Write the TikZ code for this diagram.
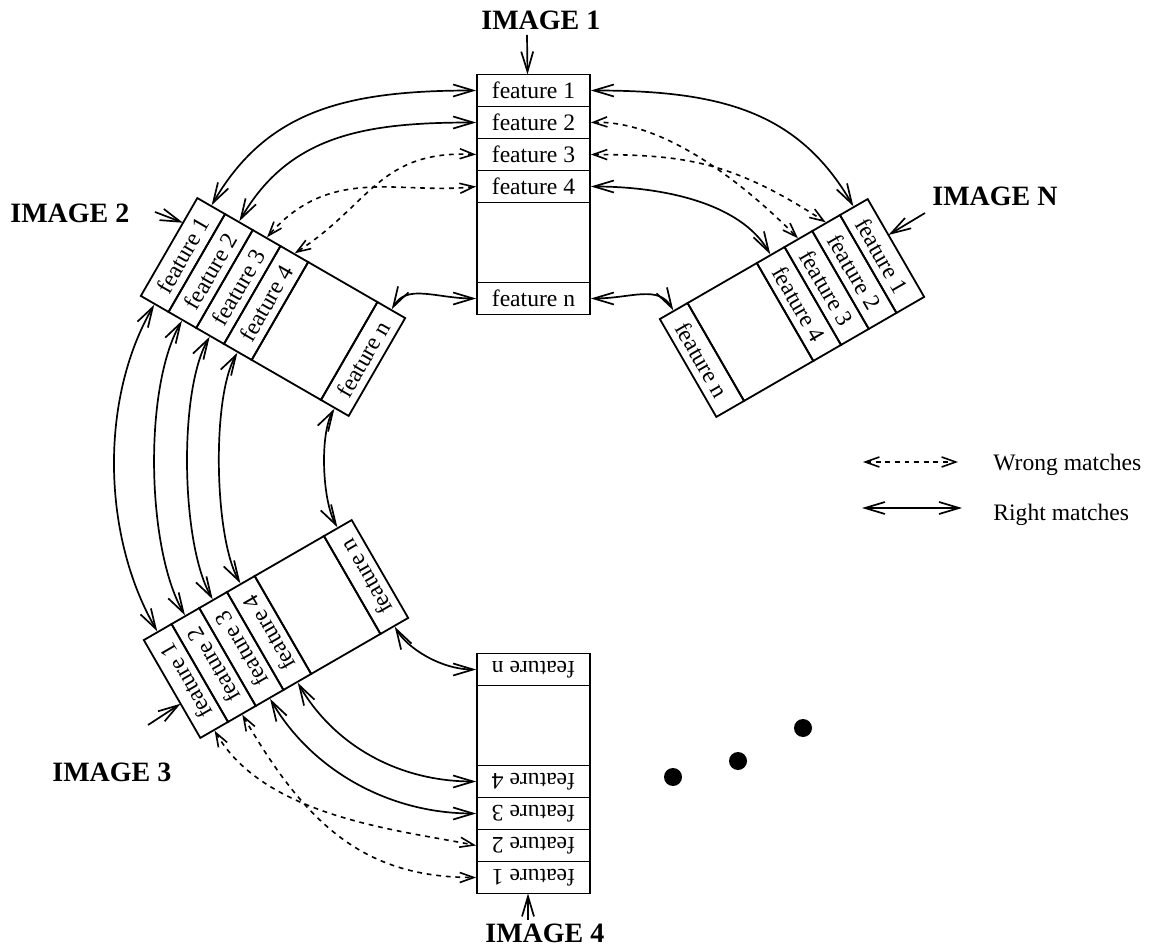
\documentclass[tikz,border=0pt]{standalone}
\usepackage{fontspec}
\setmainfont{Liberation Serif}
\usetikzlibrary{arrows.meta}
\newcommand\featcol[5]{%
\begin{scope}[shift={(#2,#3)}, rotate=#4, transform shape]
  \node[featbox] (#1f1) at (0,-104) {feature 1};
  \node[featbox] (#1f2) at (0,-72) {feature 2};
  \node[featbox] (#1f3) at (0,-40) {feature 3};
  \node[featbox] (#1f4) at (0,-8) {feature 4};
  \node[blankbox] (#1b) at (0,48) {};
  \node[featbox] (#1fn) at (0,104) {feature n};
  \coordinate (#1tip) at (#5,-120);
\end{scope}}
\begin{document}
\begin{tikzpicture}[x=0.5pt,y=-0.5pt,
  featbox/.style={draw, line width=0.9pt, minimum width=56.5pt, minimum height=16pt, inner sep=0pt, font=\fontsize{11.8}{14}\selectfont},
  blankbox/.style={draw, line width=0.9pt, minimum width=56.5pt, minimum height=40pt, inner sep=0pt},
  rightm/.style={line width=0.85pt, {Straight Barb[length=10pt,width=6pt]}-{Straight Barb[length=10pt,width=6pt]}},
  wrongm/.style={line width=0.8pt, dash pattern=on 2.4pt off 2.4pt, {Straight Barb[length=7pt,width=5pt]}-{Straight Barb[length=7pt,width=5pt]}},
  labelarrow/.style={line width=0.85pt, -{Straight Barb[length=10pt,width=6pt]}},
  imglabel/.style={font=\fontsize{14}{17}\selectfont\bfseries, inner sep=0pt, anchor=base west},
  legtext/.style={font=\fontsize{11.8}{14}\selectfont, inner sep=0pt, anchor=base west}
]
\useasboundingbox (0,0) rectangle (1151,951);

\featcol{i1}{533.5}{194.5}{0}{-6}
\featcol{i2}{273}{307}{60}{28}
\featcol{iN}{792}{308}{-60}{-15}
\featcol{i3}{276}{629}{120}{-17}
\featcol{i4}{533.5}{773.5}{180}{5.5}

% image 1 <-> image 2
\draw[rightm] (i1f1.west) .. controls +(-130,0) and +(55,-95) .. (i2f1.east);
\draw[rightm] (i1f2.west) .. controls +(-110,0) and +(50,-87) .. (i2f2.east);
\draw[wrongm] (i1f3.west) .. controls +(-97,-4.5) and +(76,-49) .. (i2f4.east);
\draw[wrongm] (i1f4.west) .. controls +(-77,8.5) and +(63,-73) .. (i2f3.east);
\draw[rightm] (i1fn.west) .. controls +(-40,0) and +(15,-26) .. (i2fn.east);

% image 1 <-> image N
\draw[rightm] (i1f1.east) .. controls +(130,0) and +(-55,-95) .. (iNf1.west);
\draw[rightm] (i1f4.east) .. controls +(70,0) and +(-30,-52) .. (iNf4.west);
\draw[rightm] (i1fn.east) .. controls +(40,0) and +(-15,-26) .. (iNfn.west);
\draw[wrongm] (i1f2.east) .. controls +(70,-2.5) and +(-58,-59) .. (iNf3.west);
\draw[wrongm] (i1f3.east) .. controls +(90,0.5) and +(-96,-63) .. (iNf2.west);

% image 2 <-> image 3
\draw[rightm] (i2f1.west) .. controls +(-55,95) and +(-55,-95) .. (i3f1.east);
\draw[rightm] (i2f2.west) .. controls +(-38.5,66.7) and +(-38.5,-66.7) .. (i3f2.east);
\draw[rightm] (i2f3.west) .. controls +(-31.5,54.6) and +(-31.5,-54.6) .. (i3f3.east);
\draw[rightm] (i2f4.west) .. controls +(-26,45) and +(-26,-45) .. (i3f4.east);
\draw[rightm] (i2fn.west) .. controls +(-15,26) and +(-15,-26) .. (i3fn.east);

% image 3 <-> image 4
\draw[rightm] (i3f3.west) .. controls +(40,69) and +(-90,0) .. (i4f3.east);
\draw[rightm] (i3f4.west) .. controls +(35,60.6) and +(-80,0) .. (i4f4.east);
\draw[rightm] (i3fn.west) .. controls +(12.5,21.6) and +(-35,0) .. (i4fn.east);
\draw[wrongm] (i3f1.west) .. controls +(50,86.6) and +(-77,-15.5) .. (i4f2.east);
\draw[wrongm] (i3f2.west) .. controls +(65,112.6) and +(-110,0) .. (i4f1.east);

% labels
\node[imglabel] (lab1) at (481,29.5) {IMAGE 1};
\node[imglabel] (lab2) at (10,222.5) {IMAGE 2};
\node[imglabel] (labN) at (932,205.5) {IMAGE N};
\node[imglabel] (lab3) at (52,781.5) {IMAGE 3};
\node[imglabel] (lab4) at (485,942) {IMAGE 4};

\coordinate (t1) at (527,35);
\coordinate (t2) at (155,212);
\coordinate (tN) at (925,213);
\coordinate (t3) at (148,725);
\coordinate (t4) at (528,920);
\draw[labelarrow] (t1) -- (i1tip);
\draw[labelarrow] (t2) -- (i2tip);
\draw[labelarrow] (tN) -- (iNtip);
\draw[labelarrow] (t3) -- (i3tip);
\draw[labelarrow] (t4) -- (i4tip);

% legend
\coordinate (lw1) at (863,462);
\coordinate (lw2) at (958,462);
\draw[wrongm] (lw1) -- (lw2);
\node[legtext] (lwt) at (993,471) {Wrong matches};
\coordinate (lr1) at (862,508);
\coordinate (lr2) at (962,508);
\draw[rightm] (lr1) -- (lr2);
\node[legtext] (lrt) at (993,521) {Right matches};

% dots
\fill (673,777) circle[radius=4.5pt];
\fill (738,761) circle[radius=4.5pt];
\fill (803,728) circle[radius=4.5pt];
\end{tikzpicture}
\end{document}
